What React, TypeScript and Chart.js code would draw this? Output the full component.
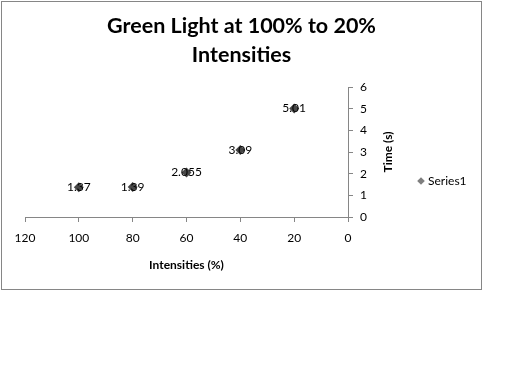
import React, { useEffect, useRef } from "react";
import { Chart, registerables } from "chart.js";

Chart.register(...registerables);

const intensities = [100, 80, 60, 40, 20];
const times = [1.37, 1.39, 2.055, 3.09, 5.01];
const pointLabels = ["1.37", "1.39", "2.055", "3.09", "5.01"];
const seriesName = "Series1";
const chartTitle = ["Green Light at 100% to 20%", "Intensities"];
const xTitle = "Intensities (%)";
const yTitle = "Time (s)";
const xRange = [0, 120];
const yRange = [0, 6];

const FONT = "Lato, 'Open Sans', sans-serif";
const AXIS_GRAY = "#868686";
const MARKER = "#474747";

const extras = {
  id: "extras",
  afterDatasetsDraw(chart: any) {
    const ctx = chart.ctx;
    const meta = chart.getDatasetMeta(0);
    ctx.save();
    ctx.font = `12px ${FONT}`;
    ctx.fillStyle = "#000";
    ctx.textAlign = "center";
    ctx.textBaseline = "middle";
    meta.data.forEach((el: any, i: number) => {
      ctx.fillText(pointLabels[i], el.x, el.y);
    });
    ctx.restore();
  },
  afterDraw(chart: any) {
    const ctx = chart.ctx;
    const ys = chart.scales.y;
    const area = chart.chartArea;
    ctx.save();
    // y axis title, rotated to read bottom-to-top
    ctx.font = `bold 12px ${FONT}`;
    ctx.fillStyle = "#000";
    ctx.textAlign = "center";
    ctx.textBaseline = "middle";
    ctx.translate(ys.left + 40, (area.top + area.bottom) / 2);
    ctx.rotate(-Math.PI / 2);
    ctx.fillText(yTitle, 0, 0);
    ctx.restore();

    // legend
    ctx.save();
    const lx = ys.left + 73;
    const ly = 179;
    const r = 3.8;
    ctx.fillStyle = "#7f7f7f";
    ctx.beginPath();
    ctx.moveTo(lx, ly - r);
    ctx.lineTo(lx + r, ly);
    ctx.lineTo(lx, ly + r);
    ctx.lineTo(lx - r, ly);
    ctx.closePath();
    ctx.fill();
    ctx.font = `12px ${FONT}`;
    ctx.fillStyle = "#000";
    ctx.textAlign = "left";
    ctx.textBaseline = "middle";
    ctx.fillText(seriesName, lx + 7, ly);
    ctx.restore();
  },
};

export default function App() {
  const ref = useRef<HTMLCanvasElement>(null);
  useEffect(() => {
    if (!ref.current) return;
    const chart = new Chart(ref.current, {
      type: "scatter",
      data: {
        datasets: [
          {
            label: seriesName,
            data: intensities.map((x, i) => ({ x, y: times[i] })),
            pointStyle: "rectRot",
            pointRadius: 5,
            pointBackgroundColor: MARKER,
            pointBorderColor: MARKER,
            pointBorderWidth: 0,
            showLine: false,
          },
        ],
      },
      options: {
        animation: false,
        responsive: false,
        maintainAspectRatio: false,
        devicePixelRatio: 1,
        layout: { padding: { left: 23, right: 23, top: 0, bottom: 0 } },
        plugins: {
          legend: { display: false },
          tooltip: { enabled: false },
          title: {
            display: true,
            text: chartTitle,
            color: "#000",
            font: { family: FONT, size: 21.5, weight: "bold", lineHeight: 1.35 },
            padding: { top: 10, bottom: 17 },
          },
        },
        scales: {
          x: {
            type: "linear",
            min: xRange[0],
            max: xRange[1],
            reverse: true,
            afterFit: (s: any) => {
              s.height = 72;
            },
            ticks: {
              stepSize: 20,
              color: "#000",
              font: { family: FONT, size: 12 },
              padding: 9,
              maxRotation: 0,
            },
            grid: {
              drawOnChartArea: false,
              drawTicks: true,
              tickLength: 5,
              color: AXIS_GRAY,
            },
            border: { display: true, color: AXIS_GRAY },
            title: {
              display: true,
              text: xTitle,
              color: "#000",
              font: { family: FONT, size: 12, weight: "bold" },
              padding: { top: 0, bottom: 17 },
            },
          },
          y: {
            type: "linear",
            position: "right",
            min: yRange[0],
            max: yRange[1],
            afterFit: (s: any) => {
              s.width = 110;
            },
            ticks: {
              stepSize: 1,
              color: "#000",
              font: { family: FONT, size: 12 },
              padding: 7,
            },
            grid: {
              drawOnChartArea: false,
              drawTicks: true,
              tickLength: 5,
              color: AXIS_GRAY,
            },
            border: { display: true, color: AXIS_GRAY },
          },
        },
      },
      plugins: [extras],
    } as any);
    return () => chart.destroy();
  }, []);

  return (
    <div
      style={{
        position: "absolute",
        left: 1,
        top: 1,
        width: 479,
        height: 287,
        border: `1px solid ${AXIS_GRAY}`,
        background: "#fff",
      }}
    >
      <canvas ref={ref} width={479} height={287} style={{ display: "block" }} />
    </div>
  );
}
